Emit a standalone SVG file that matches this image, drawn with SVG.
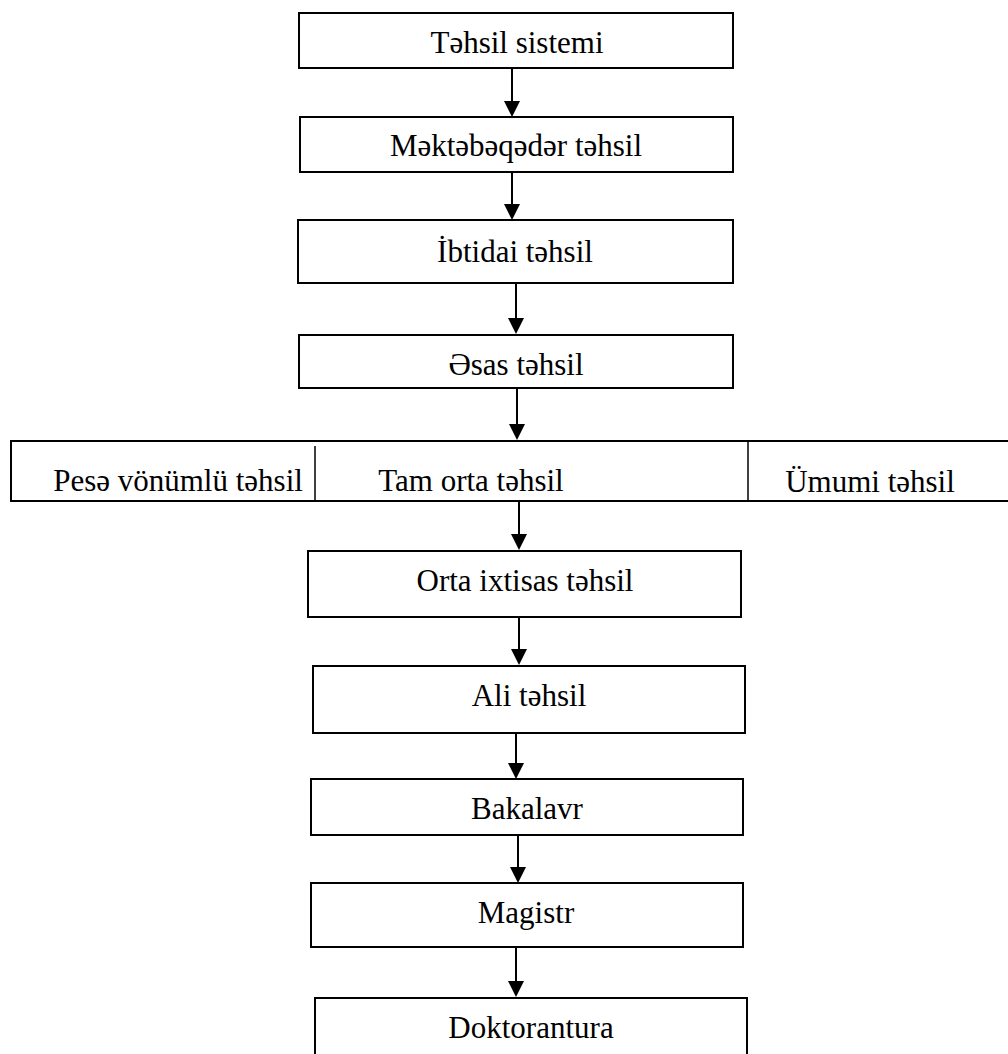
<svg xmlns="http://www.w3.org/2000/svg" width="1008" height="1054" viewBox="0 0 1008 1054">
<style>
.box{fill:#fff;stroke:#000;stroke-width:2}
.div{stroke:#000;stroke-width:1.5}
.lbl{font-family:"Liberation Serif","DejaVu Serif","Times New Roman",serif;font-size:31px;fill:#000;text-anchor:middle}
.ln{stroke:#000;stroke-width:2;fill:none}
.hd{fill:#000;stroke:none}
</style>
<rect width="1008" height="1054" fill="#fff"/>
<g id="connectors">
<path class="ln" d="M512,68 V102"/><path class="hd" d="M504,101 L520,101 L512,117 Z"/>
<path class="ln" d="M512,172 V205"/><path class="hd" d="M504,204 L520,204 L512,220 Z"/>
<path class="ln" d="M516,283 V319"/><path class="hd" d="M508,318 L524,318 L516,334 Z"/>
<path class="ln" d="M517,388 V425"/><path class="hd" d="M509,424 L525,424 L517,440 Z"/>
<path class="ln" d="M519,500 V535"/><path class="hd" d="M511,534 L527,534 L519,550 Z"/>
<path class="ln" d="M519,617 V650"/><path class="hd" d="M511,649 L527,649 L519,665 Z"/>
<path class="ln" d="M516,733 V764"/><path class="hd" d="M508,763 L524,763 L516,779 Z"/>
<path class="ln" d="M518,832 V868"/><path class="hd" d="M510,867 L526,867 L518,883 Z"/>
<path class="ln" d="M516,947 V982"/><path class="hd" d="M508,981 L524,981 L516,997 Z"/>
</g>
<g id="n1"><rect class="box" x="299" y="13" width="434" height="55"/><text class="lbl" x="517" y="53">Təhsil sistemi</text></g>
<g id="n2"><rect class="box" x="300" y="117" width="433" height="55"/><text class="lbl" x="516" y="156">Məktəbəqədər təhsil</text></g>
<g id="n3"><rect class="box" x="298" y="220" width="435" height="63"/><text class="lbl" x="515" y="262">İbtidai təhsil</text></g>
<g id="n4"><rect class="box" x="299" y="335" width="434" height="53"/><text class="lbl" x="516" y="375">Əsas təhsil</text></g>
<g id="n5">
<rect class="box" x="11" y="441" width="1005" height="60"/>
<line class="div" x1="315" y1="446" x2="315" y2="501"/>
<line class="div" x1="748" y1="441" x2="748" y2="501"/>
<text class="lbl" x="178" y="491">Pesə vönümlü təhsil</text>
<text class="lbl" x="471" y="491">Tam orta təhsil</text>
<text class="lbl" x="870" y="492">Ümumi təhsil</text>
</g>
<g id="n6"><rect class="box" x="308" y="551" width="433" height="66"/><text class="lbl" x="525" y="591">Orta ixtisas təhsil</text></g>
<g id="n7"><rect class="box" x="313" y="666" width="432" height="67"/><text class="lbl" x="529" y="706">Ali təhsil</text></g>
<g id="n8"><rect class="box" x="311" y="779" width="432" height="56"/><text class="lbl" x="527" y="819">Bakalavr</text></g>
<g id="n9"><rect class="box" x="311" y="883" width="432" height="64"/><text class="lbl" x="526" y="923">Magistr</text></g>
<g id="n10"><rect class="box" x="315" y="998" width="432" height="64"/><text class="lbl" x="531" y="1038">Doktorantura</text></g>
</svg>
